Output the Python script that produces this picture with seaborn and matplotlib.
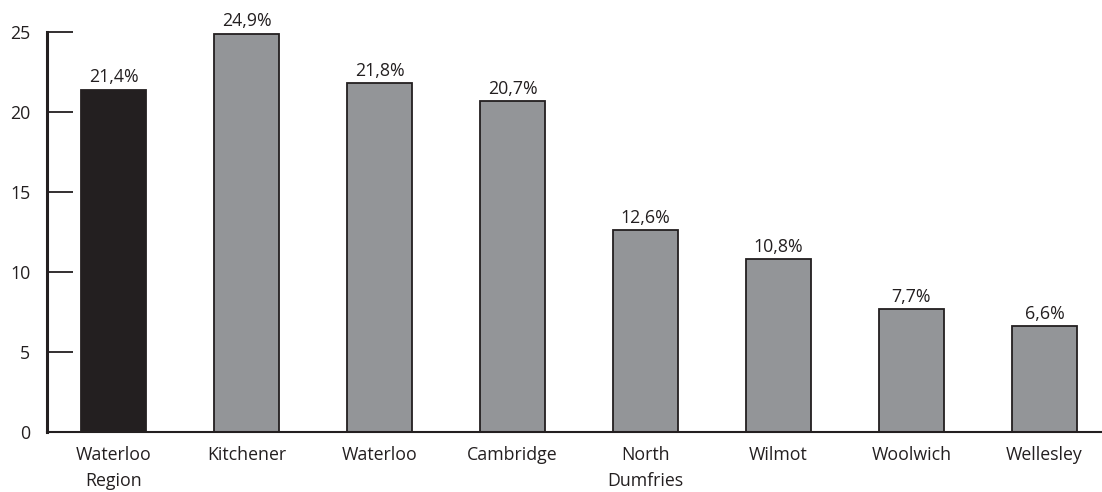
import pandas as pd
import matplotlib.pyplot as plt
import seaborn as sns

# Данные
regions = ["Waterloo\nRegion", "Kitchener", "Waterloo", "Cambridge",
           "North\nDumfries", "Wilmot", "Woolwich", "Wellesley"]
values = [21.4, 24.9, 21.8, 20.7, 12.6, 10.8, 7.7, 6.6]
bar_colors = ["#231f20"] + ["#939598"] * 7
y_ticks = [0, 5, 10, 15, 20, 25]


def main():
    df = pd.DataFrame({"region": regions, "value": values})

    sns.set_style("white")
    plt.rcParams["font.family"] = ["Open Sans", "DejaVu Sans"]

    fig = plt.figure(figsize=(11.02, 4.92), dpi=100)
    ax = fig.add_axes([47 / 1102, 60 / 492, 1056 / 1102, 400 / 492])

    sns.barplot(data=df, x="region", y="value", hue="region",
                palette=bar_colors, legend=False, width=0.49,
                edgecolor="#231f20", linewidth=1.3, saturation=1, ax=ax)

    for i, v in enumerate(values):
        ax.text(i, v + 0.2, f"{v:.1f}%".replace(".", ","), ha="center",
                va="bottom", fontsize=12.8, color="#231f20", clip_on=False)

    ax.set_xlim(-0.5, 7.44)
    ax.set_ylim(0, 25)
    ax.set_yticks(y_ticks)
    ax.set_xlabel("")
    ax.set_ylabel("")

    # Подписи по центрам столбиков, засечки между категориями
    ax.set_xticks(range(len(regions)))
    ax.set_xticklabels(regions, linespacing=1.55)
    ax.set_xticks([i + 0.5 for i in range(len(regions) - 1)], minor=True)
    ax.tick_params(axis="x", which="major", length=0, pad=10,
                   labelsize=12.8, labelcolor="#231f20")
    ax.tick_params(axis="x", which="minor", direction="in", length=7,
                   width=2.4, color="#231f20")
    ax.tick_params(axis="y", direction="in", length=19, width=1.3,
                   color="#231f20", pad=12, labelsize=12.8,
                   labelcolor="#231f20", left=True)

    for side in ["top", "right"]:
        ax.spines[side].set_visible(False)
    ax.spines["left"].set_linewidth(2.2)
    ax.spines["left"].set_color("#231f20")
    ax.spines["bottom"].set_linewidth(1.5)
    ax.spines["bottom"].set_color("#231f20")

    fig.savefig("out.png", dpi=100)


if __name__ == "__main__":
    main()
